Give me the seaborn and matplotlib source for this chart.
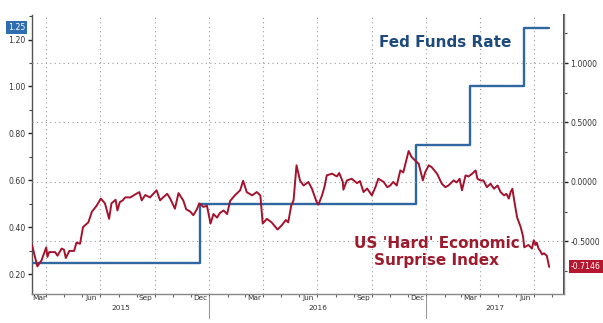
import numpy as np
import pandas as pd
import matplotlib
matplotlib.use('Agg')
import matplotlib.pyplot as plt
import matplotlib.dates as mdates
import matplotlib.transforms as mtransforms
from matplotlib.ticker import FixedLocator, MultipleLocator, FormatStrFormatter, NullFormatter
import seaborn as sns

# ---------------- data ----------------
surprise_dates = [
    '2015-03-08', '2015-03-17', '2015-03-24', '2015-04-01', '2015-04-03', '2015-04-06',
    '2015-04-16', '2015-04-20', '2015-04-27', '2015-05-01', '2015-05-04', '2015-05-10',
    '2015-05-18', '2015-05-22', '2015-05-28', '2015-06-02', '2015-06-11', '2015-06-17',
    '2015-06-25', '2015-07-02', '2015-07-09', '2015-07-16', '2015-07-20', '2015-07-27',
    '2015-07-30', '2015-08-03', '2015-08-08', '2015-08-12', '2015-08-21', '2015-08-29',
    '2015-09-05', '2015-09-09', '2015-09-15', '2015-09-23', '2015-10-04', '2015-10-10',
    '2015-10-15', '2015-10-22', '2015-10-27', '2015-11-04', '2015-11-10', '2015-11-18',
    '2015-11-23', '2015-11-30', '2015-12-05', '2015-12-11', '2015-12-15', '2015-12-22',
    '2015-12-28', '2016-01-03', '2016-01-08', '2016-01-14', '2016-01-19', '2016-01-25',
    '2016-01-31', '2016-02-05', '2016-02-13', '2016-02-22', '2016-02-27', '2016-03-04',
    '2016-03-13', '2016-03-21', '2016-03-27', '2016-03-31', '2016-04-07', '2016-04-15',
    '2016-04-25', '2016-05-02', '2016-05-09', '2016-05-13', '2016-05-18', '2016-05-22',
    '2016-05-27', '2016-06-02', '2016-06-08', '2016-06-16', '2016-06-22', '2016-06-30',
    '2016-07-03', '2016-07-09', '2016-07-13', '2016-07-17', '2016-07-26', '2016-08-03',
    '2016-08-07', '2016-08-13', '2016-08-14', '2016-08-20', '2016-08-28', '2016-09-06',
    '2016-09-11', '2016-09-17', '2016-09-23', '2016-10-01', '2016-10-07', '2016-10-12',
    '2016-10-21', '2016-10-27', '2016-11-01', '2016-11-06', '2016-11-12', '2016-11-18',
    '2016-11-23', '2016-12-02', '2016-12-07', '2016-12-13', '2016-12-19', '2016-12-26',
    '2016-12-30', '2017-01-05', '2017-01-10', '2017-01-19', '2017-01-27', '2017-02-02',
    '2017-02-07', '2017-02-16', '2017-02-21', '2017-02-26', '2017-03-02', '2017-03-08',
    '2017-03-13', '2017-03-19', '2017-03-25', '2017-03-28', '2017-04-02', '2017-04-07',
    '2017-04-13', '2017-04-19', '2017-04-25', '2017-05-01', '2017-05-06', '2017-05-12',
    '2017-05-16', '2017-05-20', '2017-05-23', '2017-05-26', '2017-05-29', '2017-06-03',
    '2017-06-09', '2017-06-13', '2017-06-15', '2017-06-22', '2017-06-28', '2017-07-01',
    '2017-07-04', '2017-07-06', '2017-07-09', '2017-07-12', '2017-07-15', '2017-07-18',
    '2017-07-23', '2017-07-27',
]
surprise_values = [
    -0.53, -0.71, -0.66, -0.55, -0.63, -0.59,
    -0.59, -0.62, -0.56, -0.57, -0.64, -0.58,
    -0.58, -0.51, -0.52, -0.38, -0.34, -0.25,
    -0.20, -0.14, -0.18, -0.31, -0.18, -0.15,
    -0.24, -0.17, -0.155, -0.13, -0.13, -0.105,
    -0.085, -0.155, -0.11, -0.13, -0.07, -0.155,
    -0.13, -0.10, -0.14, -0.225, -0.094, -0.155,
    -0.23, -0.25, -0.28, -0.23, -0.18, -0.21,
    -0.20, -0.35, -0.27, -0.30, -0.26, -0.24,
    -0.27, -0.16, -0.113, -0.07, 0.01, -0.085,
    -0.113, -0.085, -0.113, -0.35, -0.31, -0.34,
    -0.40, -0.365, -0.32, -0.34, -0.20, -0.155,
    0.14, 0.01, -0.03, 0.0, -0.057, -0.17,
    -0.19, -0.113, -0.044, 0.055, 0.07, 0.046,
    0.075, 0.0, -0.065, 0.013, 0.027, -0.01,
    0.007, -0.085, -0.055, -0.113, -0.044, 0.027,
    0.0, -0.044, -0.03, 0.0, -0.03, 0.097,
    0.08, 0.26, 0.21, 0.18, 0.153, 0.013,
    0.082, 0.14, 0.124, 0.069, -0.015, -0.044,
    -0.03, 0.013, -0.004, 0.027, -0.07, 0.055,
    0.046, 0.069, 0.097, 0.027, 0.013, 0.013,
    -0.044, -0.015, -0.057, -0.03, -0.085, -0.113,
    -0.10, -0.14, -0.085, -0.057, -0.155, -0.30,
    -0.38, -0.46, -0.55, -0.53, -0.56, -0.49,
    -0.53, -0.51, -0.56, -0.58, -0.61, -0.60,
    -0.62, -0.7146,
]
fed_dates = ['2015-03-08', '2015-12-16', '2016-12-14', '2017-03-15', '2017-06-14', '2017-07-27']
fed_rates = [0.25, 0.50, 0.75, 1.00, 1.25, 1.25]

left_ticks = [0.20, 0.40, 0.60, 0.80, 1.00, 1.20]
right_ticks = [-0.5, 0.0, 0.5, 1.0]
month_labels = ['Mar', 'Jun', 'Sep', 'Dec']
year_labels = ['2015', '2016', '2017']
fed_last_label = '1.25'
surprise_last_label = '-0.7146'
fed_title = 'Fed Funds Rate'
surprise_title = "US 'Hard' Economic\nSurprise Index"

# ---------------- style ----------------
sns.set_theme(style='white')
plt.rcParams['font.family'] = ['DejaVu Sans']

BLUE = '#2f67a0'
RED = '#a3132d'
GRID = '#9a9a9a'
TXT = '#333333'

W, H = 603, 323
fig = plt.figure(figsize=(W / 100, H / 100), dpi=100)
fig.patch.set_facecolor('white')
L, R, T, B = 32, 564, 15, 293.6
ax = fig.add_axes([L / W, 1 - B / H, (R - L) / W, (B - T) / H])
ax2 = ax.twinx()

xmin, xmax = pd.Timestamp('2015-03-08'), pd.Timestamp('2017-08-21')

fed_df = pd.DataFrame({'date': pd.to_datetime(fed_dates), 'rate': fed_rates})
sur_df = pd.DataFrame({'date': pd.to_datetime(surprise_dates), 'value': surprise_values})

sns.lineplot(data=fed_df, x='date', y='rate', ax=ax, color=BLUE, lw=1.7,
             drawstyle='steps-post', estimator=None, zorder=3)
sns.lineplot(data=sur_df, x='date', y='value', ax=ax2, color=RED, lw=1.4,
             estimator=None, zorder=3)

ax.set_xlim(xmin, xmax)
ax.set_ylim(0.118, 1.3045)
ax2.set_ylim(-0.939, 1.404)
for a in (ax, ax2):
    a.set_xlabel('')
    a.set_ylabel('')
    a.grid(False)
    a.set_facecolor('none')

# grid: dotted horizontals at right-axis ticks, verticals at quarter starts
for v in right_ticks:
    ax2.axhline(v, color=GRID, lw=0.8, ls=(0, (1, 3)), zorder=0)
for q in pd.date_range('2015-04-01', xmax, freq='QS'):
    ax.axvline(q, color=GRID, lw=0.8, ls=(0, (1, 3)), zorder=0)

# spines
ax.spines['top'].set_visible(False)
ax2.spines['top'].set_visible(False)
ax.spines['left'].set_color('#555555')
ax.spines['bottom'].set_color('#888888')
ax2.spines['right'].set_color('#888888')
ax2.spines['left'].set_visible(False)
ax2.spines['bottom'].set_visible(False)
for s in ('left', 'bottom'):
    ax.spines[s].set_linewidth(1.0)
ax2.spines['right'].set_linewidth(1.0)

# left axis ticks
ax.yaxis.set_major_locator(FixedLocator(left_ticks))
ax.yaxis.set_major_formatter(FormatStrFormatter('%.2f'))
ax.yaxis.set_minor_locator(MultipleLocator(0.1))
ax.tick_params(axis='y', which='major', left=True, right=False, length=3, width=1.0,
               color='#222222', labelsize=5.6, labelcolor=TXT, pad=1.5, direction='out')
ax.tick_params(axis='y', which='minor', left=True, length=2, width=0.8, color='#444444',
               direction='out')

# right axis ticks
ax2.yaxis.set_major_locator(FixedLocator(right_ticks))
ax2.yaxis.set_major_formatter(FormatStrFormatter('%.4f'))
ax2.yaxis.set_minor_locator(MultipleLocator(0.25))
ax2.tick_params(axis='y', which='major', right=True, left=False, length=3, width=1.0,
                color='#222222', labelsize=5.6, labelcolor=TXT, pad=1.5, direction='out')
ax2.tick_params(axis='y', which='minor', right=True, length=2, width=0.8, color='#444444',
                direction='out')

# x axis: monthly ticks, labels placed in month centres
ax.xaxis.set_major_locator(mdates.MonthLocator())
ax.xaxis.set_major_formatter(NullFormatter())
ax.tick_params(axis='x', which='major', bottom=True, length=2.5, width=0.8,
               color='#666666', direction='out')
ax2.tick_params(axis='x', bottom=False, labelbottom=False)

btrans = mtransforms.blended_transform_factory(ax.transData, ax.transAxes)
label_months = pd.date_range('2015-03-01', '2017-06-01', freq='3MS')
for i, m in enumerate(label_months):
    start = max(m, xmin)
    end = min(m + pd.offsets.MonthBegin(1), xmax)
    centre = start + (end - start) / 2
    ax.text(centre, -0.006, month_labels[i % 4], transform=btrans, ha='center', va='top',
            fontsize=5.3, color=TXT)

year_starts = [xmin] + list(pd.date_range('2016-01-01', xmax, freq='YS')) + [xmax]
for i, y in enumerate(year_labels):
    s, e = year_starts[i], year_starts[i + 1]
    ax.text(s + (e - s) / 2, -0.052, y, transform=btrans, ha='center', va='center',
            fontsize=5.3, color=TXT)
for d in pd.date_range('2016-01-01', xmax, freq='YS'):
    ax.plot([d, d], [-0.01, -0.088], transform=btrans, color='#999999', lw=0.8,
            clip_on=False)

# last-value boxes
ltrans = mtransforms.blended_transform_factory(ax.transAxes, ax.transData)
ax.annotate(fed_last_label, xy=(0, fed_rates[-1]), xycoords=ltrans, xytext=(-5, 0),
            textcoords='offset points', ha='right', va='center', fontsize=5.6,
            color='white', annotation_clip=False,
            bbox=dict(boxstyle='square,pad=0.25', fc='#2d6db0', ec='none'))
rtrans = mtransforms.blended_transform_factory(ax2.transAxes, ax2.transData)
ax2.annotate(surprise_last_label, xy=(1, surprise_values[-1]), xycoords=rtrans,
             xytext=(5, 0), textcoords='offset points', ha='left', va='center',
             fontsize=5.6, color='white', annotation_clip=False,
             bbox=dict(boxstyle='square,pad=0.25', fc='#b5172e', ec='none'))

# titles inside chart
fig.text(445.5 / W, 1 - 47 / H, fed_title, ha='center', va='baseline',
         fontsize=11, fontweight='bold', color='#1f4a7c')
fig.text(437 / W, 1 - 265 / H, surprise_title, ha='center', va='baseline',
         fontsize=11, fontweight='bold', color='#9e1b2e', linespacing=1.2)

fig.savefig('out.png', dpi=100, facecolor='white')
